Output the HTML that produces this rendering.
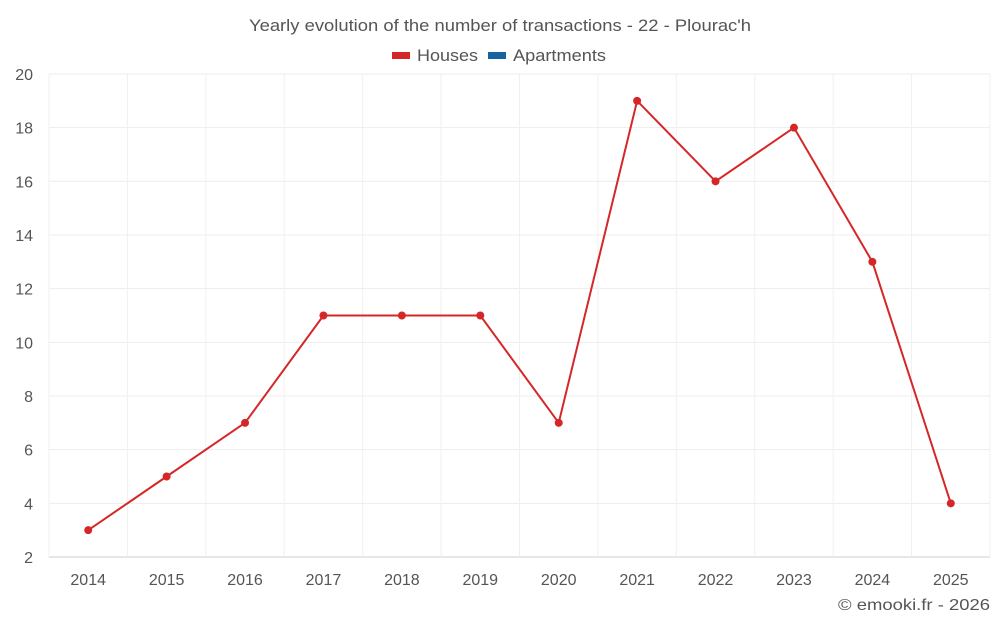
<!DOCTYPE html>
<html><head><meta charset="utf-8">
<style>
body{margin:0;background:#fff;font-family:"Liberation Sans",sans-serif;}
svg text{font-family:"Liberation Sans",sans-serif;fill:#555;}
</style></head>
<body>
<svg id="chart" width="1000" height="625">
<text x="249" y="31" font-size="17" textLength="502" lengthAdjust="spacingAndGlyphs">Yearly evolution of the number of transactions - 22 - Plourac'h</text>
<g>
<g><rect x="392" y="52" width="18" height="7" fill="#d62728"/><text x="417" y="61" font-size="17" textLength="61" lengthAdjust="spacingAndGlyphs">Houses</text></g>
<g><rect x="488" y="52" width="18" height="7" fill="#1464a0"/><text x="513" y="61" font-size="17" textLength="93" lengthAdjust="spacingAndGlyphs">Apartments</text></g>
</g>
<g id="grid"></g><g id="axes"></g><g id="series"></g>
<text x="838" y="610" font-size="16" textLength="152" lengthAdjust="spacingAndGlyphs">© emooki.fr - 2026</text>
</svg>
<script>
const years=["2014","2015","2016","2017","2018","2019","2020","2021","2022","2023","2024","2025"];
const houses=[3,5,7,11,11,11,7,19,16,18,13,4];
const yTicks=[2,4,6,8,10,12,14,16,18,20];
const NS="http://www.w3.org/2000/svg";
const L=49,R=990,T=74,B=557,yMin=2,yMax=20;
const bw=(R-L)/years.length;
const x=i=>L+bw*(i+0.5);
const y=v=>B-(v-yMin)/(yMax-yMin)*(B-T);
function mk(tag,attrs,parent,txt){const e=document.createElementNS(NS,tag);for(const k in attrs)e.setAttribute(k,attrs[k]);if(txt!==undefined)e.textContent=txt;parent.appendChild(e);return e;}
const grid=document.getElementById('grid'),axes=document.getElementById('axes'),ser=document.getElementById('series');
yTicks.forEach(t=>{
 const l=mk('line',{x1:L,x2:R,y1:y(t),y2:y(t),stroke:t===yMin?'#ccc':'#ededed'},grid);
 
 
 const tx=mk('text',{x:33,y:y(t)+6,'text-anchor':'end','font-size':16},axes,t);
 
 
});
for(let i=0;i<=years.length;i++){
 const l=mk('line',{x1:L+bw*i,x2:L+bw*i,y1:T,y2:B,stroke:'#f0f0f0'},grid);
 
 
}
years.forEach((yr,i)=>{
 const tx=mk('text',{x:x(i),y:585,'text-anchor':'middle','font-size':16},axes,yr);
 
 
});
const p=mk('polyline',{points:houses.map((v,i)=>x(i)+','+y(v)).join(' '),fill:'none',stroke:'#d62728','stroke-width':2},ser);


houses.forEach((v,i)=>{
 const c=mk('circle',{cx:x(i),cy:y(v),r:4,fill:'#d62728'},ser);
 
 
});
</script>
</body></html>
